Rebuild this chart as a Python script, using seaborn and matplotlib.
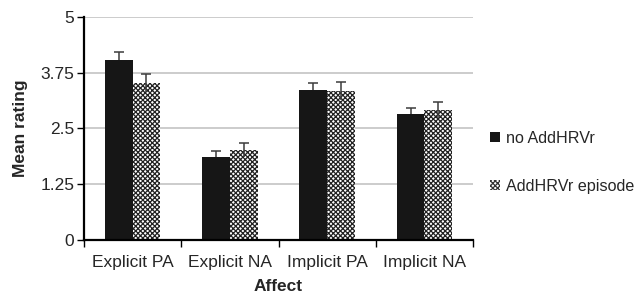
import pandas as pd
import matplotlib
matplotlib.use("Agg")
import matplotlib.pyplot as plt
import matplotlib.patches as mpatches
import seaborn as sns

# Values
categories = ["Explicit PA", "Explicit NA", "Implicit PA", "Implicit NA"]
groups = ["no AddHRVr", "AddHRVr episode"]
no_addhrvr = [4.04, 1.87, 3.36, 2.82]
addhrvr_episode = [3.52, 2.02, 3.34, 2.91]
no_addhrvr_err = [0.17, 0.12, 0.16, 0.13]
addhrvr_episode_err = [0.20, 0.15, 0.20, 0.18]
y_ticks = [0, 1.25, 2.5, 3.75, 5]
y_tick_labels = ["0", "1.25", "2.5", "3.75", "5"]

df = pd.DataFrame({
    "Affect": categories * 2,
    "Group": [groups[0]] * 4 + [groups[1]] * 4,
    "Mean rating": no_addhrvr + addhrvr_episode,
})
errs = {groups[0]: no_addhrvr_err, groups[1]: addhrvr_episode_err}

sns.set_style("white")
plt.rcParams["font.family"] = ["Liberation Sans", "DejaVu Sans"]
plt.rcParams["hatch.linewidth"] = 0.9

fig = plt.figure(figsize=(6.41, 2.94), dpi=100)
ax = fig.add_axes([0.131, 0.184, 0.607, 0.758])

sns.barplot(data=df, x="Affect", y="Mean rating", hue="Group",
            palette=["#161616", "white"], width=0.57, errorbar=None,
            saturation=1, legend=False, ax=ax, zorder=2)

# error bars: line both ways, cap only on top
for cont, g in zip(ax.containers, groups):
    z = 1.5 if g == groups[0] else 3
    for bar, err in zip(cont, errs[g]):
        bar.set_linewidth(0)
        if g == groups[1]:
            bar.set_hatch("xxxxxxx")
            bar.set_edgecolor("#222222")
        cx = bar.get_x() + bar.get_width() / 2
        h = bar.get_height()
        ax.vlines(cx, h - err, h + err, color="#3c3c3c", linewidth=1.1, zorder=z)
        ax.plot([cx], [h + err], marker="_", markersize=7, mew=1.1,
                color="#3c3c3c", zorder=3)

ax.set_ylim(0, 5)
ax.set_xlim(-0.5, 3.5)
ax.set_yticks(y_ticks)
ax.set_yticklabels(y_tick_labels)
ax.set_xticks([-0.5, 0.5, 1.5, 2.5, 3.5], minor=False)
ax.set_xticklabels([])
ax.set_xticks(range(4), minor=True)
ax.set_xticklabels(categories, minor=True)
ax.tick_params(axis="x", which="minor", length=0, labelsize=12.5, pad=11)
ax.tick_params(axis="x", which="major", length=5, width=1, direction="out",
               color="black", bottom=True)
ax.tick_params(axis="y", length=5, width=1, direction="out", color="black",
               left=True, labelsize=12.5, pad=2)

ax.yaxis.grid(True, color="#c4c4c4", linewidth=1.2, zorder=0)
ax.set_axisbelow(True)
for s in ["top", "right"]:
    ax.spines[s].set_visible(False)
for s in ["left", "bottom"]:
    ax.spines[s].set_color("black")
    ax.spines[s].set_linewidth(1.6)

ax.set_xlabel("Affect", fontsize=12.5, fontweight="bold", labelpad=6)
ax.set_ylabel("Mean rating", fontsize=12.5, fontweight="bold", labelpad=9)

handles = [
    mpatches.Patch(facecolor="#161616", edgecolor="none", label=groups[0]),
    mpatches.Patch(facecolor="white", edgecolor="#333333", hatch="xxxxxxx",
                   linewidth=0, label=groups[1]),
]
fig.legend(handles=handles, loc="center left", bbox_to_anchor=(0.765, 0.448),
           frameon=False, fontsize=11.6, handlelength=0.6, handleheight=0.6,
           handletextpad=0.35, labelspacing=2.05, borderpad=0, borderaxespad=0)

fig.savefig("out.png", dpi=100)
